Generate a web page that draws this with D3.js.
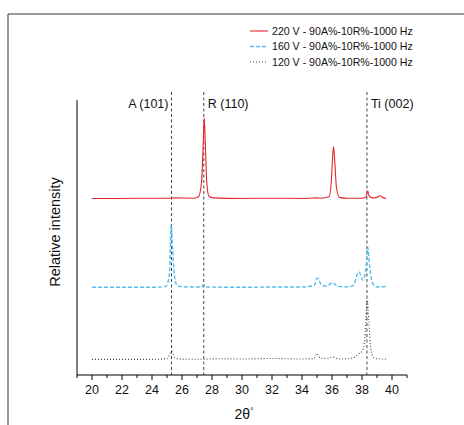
<!DOCTYPE html>
<html>
<head>
<meta charset="utf-8">
<script src="https://cdn.jsdelivr.net/npm/d3@7"></script>
<style>
  body { margin: 0; background: #fff; }
  svg { display: block; font-family: "Liberation Sans", Arial, sans-serif; }
</style>
</head>
<body>
<svg id="chart" width="464" height="425"></svg>
<script>
// series data: [2theta, relative intensity]
var seriesNames = ["220 V - 90A%-10R%-1000 Hz", "160 V - 90A%-10R%-1000 Hz", "120 V - 90A%-10R%-1000 Hz"];

var red220 = [[20,64.2],[22,64.2],[24,64.3],[25.2,64.3],[25.4,64.4],[26.8,64.3],[27.1,64.8],[27.3,70],[27.42,85],[27.48,93.5],
  [27.55,85],[27.65,70],[27.8,65],[28.1,64.4],[30,64.2],[32,64.3],[34,64.2],[35,64.4],[35.3,64.3],[35.8,64.8],[35.95,70],
  [36.05,80],[36.1,83],[36.18,78],[36.3,68],[36.5,64.6],[37,64.3],[38,64.3],[38.28,64.8],[38.38,67],[38.48,65],[38.7,64.4],
  [39.0,64.6],[39.2,65.2],[39.4,64.5],[39.6,64.2]];

var blue160 = [[20,31.9],[22,31.9],[24,31.9],[24.9,32.2],[25.15,36],[25.28,54.5],[25.38,45],[25.5,36],[25.7,32.3],[26.5,32],
  [27.3,32],[27.45,32.8],[27.6,32],[30,31.9],[32,32],[34,32],[34.8,32.5],[35.02,35.3],[35.3,32.8],[35.6,32.3],[36.05,33.6],
  [36.4,32.2],[37,32.1],[37.4,32.5],[37.8,37.5],[38.05,34.5],[38.25,38],[38.38,46.5],[38.5,40],[38.7,33.5],[39,32],
  [39.3,32],[39.6,32.2]];

var black120 = [[20,5.7],[22,5.7],[24,5.7],[25,5.9],[25.3,8.6],[25.5,6.5],[25.8,5.8],[27,5.7],[28.5,5.9],[30,5.8],[32,6.0],
  [34,5.8],[34.8,6.0],[35.0,7.8],[35.2,6.3],[35.6,6.0],[36.05,6.5],[36.5,5.8],[37,5.9],[37.5,6.5],[37.8,7.8],[38.0,8.5],
  [38.2,14],[38.35,27.3],[38.45,20],[38.6,9],[38.8,6.2],[39.2,5.8],[39.6,5.8]];

var refLines = [25.3, 27.45, 38.33];
var refLabels = ["A (101)", "R (110)", "Ti (002)"];
var xTicks = d3.range(20, 41, 2);

var svg = d3.select("#chart");

// outer frame
svg.append("path").attr("d", "M8,425V14H464").attr("fill", "none").attr("stroke", "#333").attr("stroke-width", 1);

var x = d3.scaleLinear().domain([19, 41]).range([77, 407]);
var y = d3.scaleLinear().domain([0, 100]).range([375, 100]);

// x axis: major ticks every 2, minor every 1
var gx = svg.append("g").attr("transform", "translate(0,375)");
gx.append("line").attr("x1", x(19)).attr("x2", x(41)).attr("stroke", "#000");
gx.selectAll("line.minor").data(d3.range(19, 42, 1)).enter().append("line")
  .attr("class", "minor")
  .attr("x1", function(d) { return x(d); }).attr("x2", function(d) { return x(d); })
  .attr("y1", 0).attr("y2", function(d) { return d % 2 === 0 ? 5 : 3; })
  .attr("stroke", "#000");
gx.selectAll("text").data(xTicks).enter().append("text")
  .attr("x", function(d) { return x(d); }).attr("y", 19)
  .attr("text-anchor", "middle").attr("font-size", 12.5).attr("fill", "#111")
  .attr("font-family", "'Liberation Sans Narrow', 'Liberation Sans', Arial, sans-serif")
  .text(function(d) { return d; });

// y axis, a plain line
svg.append("line").attr("x1", x(19)).attr("x2", x(19)).attr("y1", 100).attr("y2", 375).attr("stroke", "#000");

// axis titles
var xt = svg.append("text").attr("x", 244).attr("y", 419).attr("text-anchor", "middle")
  .attr("font-size", 14).attr("fill", "#111");
xt.append("tspan").text("2θ");
xt.append("tspan").attr("dy", -5).attr("font-size", 9).text("°");

svg.append("text").attr("transform", "translate(60,232) rotate(-90)")
  .attr("text-anchor", "middle").attr("font-size", 14.5).attr("fill", "#111")
  .text("Relative intensity");

// reference lines
svg.selectAll("line.ref").data(refLines).enter().append("line")
  .attr("class", "ref")
  .attr("x1", function(d) { return x(d); }).attr("x2", function(d) { return x(d); })
  .attr("y1", 92).attr("y2", 375)
  .attr("stroke", "#444").attr("stroke-width", 1).attr("stroke-dasharray", "3,2.5");

svg.selectAll("text.ref").data(refLabels).enter().append("text")
  .attr("class", "ref")
  .attr("x", function(d, i) { return i === 0 ? x(refLines[i]) - 3 : x(refLines[i]) + 4; })
  .attr("y", 108)
  .attr("text-anchor", function(d, i) { return i === 0 ? "end" : "start"; })
  .attr("font-size", 12.5).attr("fill", "#111")
  .text(function(d) { return d; });

// curves
var line = d3.line()
  .x(function(d) { return x(d[0]); })
  .y(function(d) { return y(d[1]); })
  .curve(d3.curveMonotoneX);

var styles = [
  { data: red220, color: "#e8242c", width: 1.1, dash: null },
  { data: blue160, color: "#55bdf0", width: 1.4, dash: "4,2" },
  { data: black120, color: "#444", width: 1.1, dash: "1,2" }
];

styles.forEach(function(s) {
  svg.append("path").datum(s.data)
    .attr("d", line)
    .attr("fill", "none")
    .attr("stroke", s.color)
    .attr("stroke-width", s.width)
    .attr("stroke-dasharray", s.dash);
});

// legend
var lg = svg.append("g");
styles.forEach(function(s, i) {
  var yy = 31 + i * 15.5;
  lg.append("line").attr("x1", 250).attr("x2", 268).attr("y1", yy).attr("y2", yy)
    .attr("stroke", s.color).attr("stroke-width", s.width).attr("stroke-dasharray", s.dash);
  lg.append("text").attr("x", 272).attr("y", yy + 3.7)
    .attr("font-size", 10.6).attr("fill", "#111")
    .text(seriesNames[i]);
});
</script>
</body>
</html>
